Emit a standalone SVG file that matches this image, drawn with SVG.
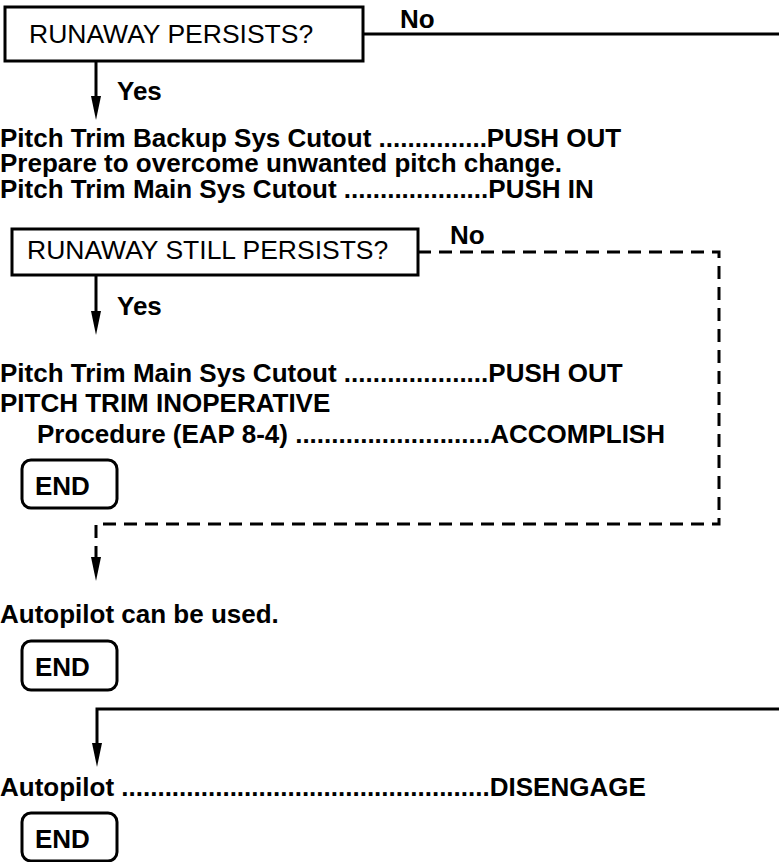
<svg xmlns="http://www.w3.org/2000/svg" width="779" height="862" viewBox="0 0 779 862">
  <style>
    text { font-family: "Liberation Sans", Arial, Helvetica, sans-serif; font-size: 26px; fill: #000; }
    .b { font-weight: bold; }
    .q { font-size: 26.5px; }
    .box { fill: #fff; stroke: #000; stroke-width: 3; }
    .endbox { fill: #fff; stroke: #000; stroke-width: 3; }
    .line { fill: none; stroke: #000; stroke-width: 3; }
    .dash { fill: none; stroke: #000; stroke-width: 3; stroke-dasharray: 13 8; }
  </style>
  <defs>
    <marker id="arrow" markerUnits="userSpaceOnUse" viewBox="0 0 24 10" markerWidth="24" markerHeight="10" refX="0" refY="5" orient="auto">
      <path d="M0,0 L24,5 L0,10 z" fill="#000"/>
    </marker>
  </defs>

  <g id="connectors">
    <path class="line" d="M96 61 V96" marker-end="url(#arrow)"/>
    <path class="line" d="M363 34 H779"/>
    <path class="line" d="M96 275 V311" marker-end="url(#arrow)"/>
    <path class="dash" d="M418 252 H719 V524 H96 V557" marker-end="url(#arrow)"/>
    <path class="line" d="M779 709 H97 V743" marker-end="url(#arrow)"/>
    <text class="b" x="400" y="28">No</text>
    <text class="b" x="117" y="100">Yes</text>
    <text class="b" x="450" y="244">No</text>
    <text class="b" x="117" y="315">Yes</text>
  </g>

  <g id="decision1">
    <rect class="box" x="5" y="7" width="358" height="54"/>
    <text class="q" x="29" y="43">RUNAWAY PERSISTS?</text>
  </g>

  <g id="steps1">
    <text class="b" x="0" y="147">Pitch Trim Backup Sys Cutout ...............PUSH OUT</text>
    <text class="b" x="0" y="172">Prepare to overcome unwanted pitch change.</text>
    <text class="b" x="0" y="198">Pitch Trim Main Sys Cutout ....................PUSH IN</text>
  </g>

  <g id="decision2">
    <rect class="box" x="12" y="229" width="406" height="46"/>
    <text class="q" x="27" y="259">RUNAWAY STILL PERSISTS?</text>
  </g>

  <g id="steps2">
    <text class="b" x="0" y="382">Pitch Trim Main Sys Cutout ....................PUSH OUT</text>
    <text class="b" x="0" y="412">PITCH TRIM INOPERATIVE</text>
    <text class="b" x="37" y="443">Procedure (EAP 8-4) ...........................ACCOMPLISH</text>
  </g>

  <g id="end1">
    <rect class="endbox" x="22" y="460" width="95" height="48" rx="9"/>
    <text class="b" x="35" y="495">END</text>
  </g>

  <g id="note">
    <text class="b" x="0" y="623">Autopilot can be used.</text>
  </g>

  <g id="end2">
    <rect class="endbox" x="22" y="641" width="95" height="49" rx="9"/>
    <text class="b" x="35" y="676">END</text>
  </g>

  <g id="step3">
    <text class="b" x="0" y="796">Autopilot ...................................................DISENGAGE</text>
  </g>

  <g id="end3">
    <rect class="endbox" x="22" y="813" width="95" height="48" rx="9"/>
    <text class="b" x="35" y="848">END</text>
  </g>
</svg>
